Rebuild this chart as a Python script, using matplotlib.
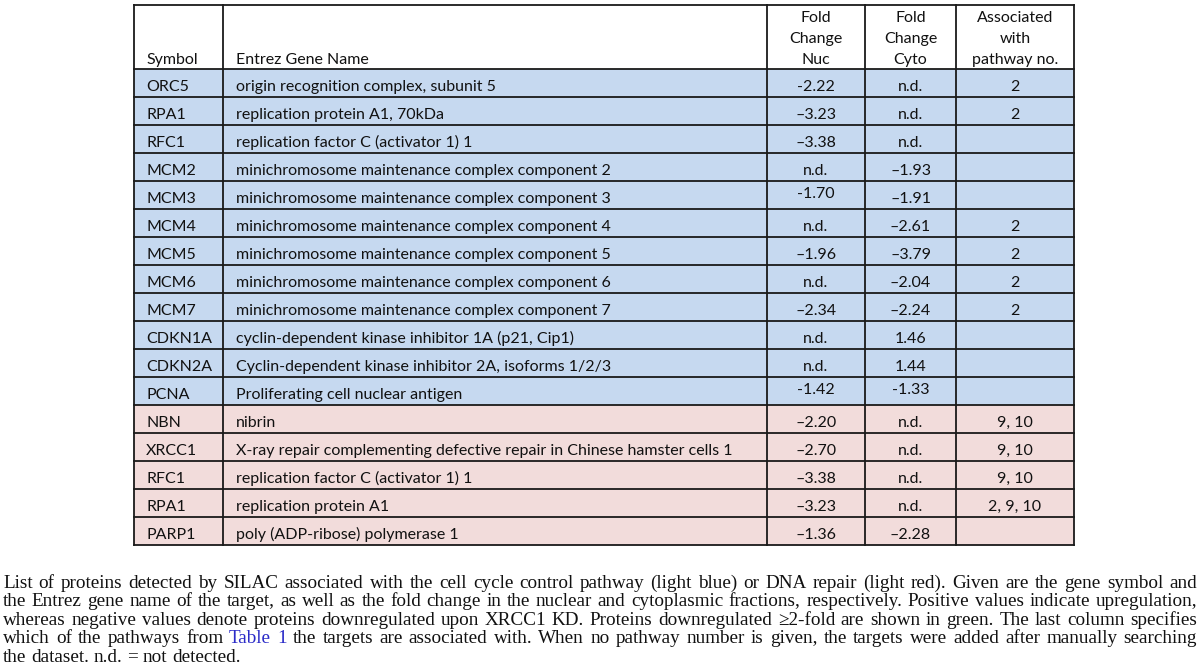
import matplotlib
matplotlib.use("Agg")
import matplotlib.pyplot as plt
from matplotlib.patches import Rectangle

# ---------------- data ----------------
symbols = ["ORC5", "RPA1", "RFC1", "MCM2", "MCM3", "MCM4", "MCM5", "MCM6", "MCM7",
           "CDKN1A", "CDKN2A", "PCNA", "NBN", "XRCC1", "RFC1", "RPA1", "PARP1"]
gene_names = [
    "origin recognition complex, subunit 5",
    "replication protein A1, 70kDa",
    "replication factor C (activator 1) 1",
    "minichromosome maintenance complex component 2",
    "minichromosome maintenance complex component 3",
    "minichromosome maintenance complex component 4",
    "minichromosome maintenance complex component 5",
    "minichromosome maintenance complex component 6",
    "minichromosome maintenance complex component 7",
    "cyclin-dependent kinase inhibitor 1A (p21, Cip1)",
    "Cyclin-dependent kinase inhibitor 2A, isoforms 1/2/3",
    "Proliferating cell nuclear antigen",
    "nibrin",
    "X-ray repair complementing defective repair in Chinese hamster cells 1",
    "replication factor C (activator 1) 1",
    "replication protein A1",
    "poly (ADP-ribose) polymerase 1",
]
fold_nuc = ["-2.22", "\u20133.23", "\u20133.38", "n.d.", "-1.70", "n.d.", "\u20131.96", "n.d.",
            "\u20132.34", "n.d.", "n.d.", "-1.42", "\u20132.20", "\u20132.70", "\u20133.38",
            "\u20133.23", "\u20131.36"]
fold_cyto = ["n.d.", "n.d.", "n.d.", "\u20131.93", "\u20131.91", "\u20132.61", "\u20133.79",
             "\u20132.04", "\u20132.24", "1.46", "1.44", "-1.33", "n.d.", "n.d.", "n.d.",
             "n.d.", "\u20132.28"]
pathways = ["2", "2", "", "", "", "2", "2", "2", "2", "", "", "", "9, 10", "9, 10",
            "9, 10", "2, 9, 10", ""]
groups = ["cycle"] * 12 + ["repair"] * 5
headers = ["Symbol", "Entrez Gene Name", "Fold\nChange\nNuc", "Fold\nChange\nCyto",
           "Associated\nwith\npathway no."]
caption_lines = [
    "List of proteins detected by SILAC associated with the cell cycle control pathway (light blue) or DNA repair (light red). Given are the gene symbol and",
    "the Entrez gene name of the target, as well as the fold change in the nuclear and cytoplasmic fractions, respectively. Positive values indicate upregulation,",
    "whereas negative values denote proteins downregulated upon XRCC1 KD. Proteins downregulated \u22652-fold are shown in green. The last column specifies",
    "which of the pathways from Table 1 the targets are associated with. When no pathway number is given, the targets were added after manually searching",
    "the dataset. n.d. = not detected.",
]

# ---------------- layout ----------------
col_edges = [134, 223, 767, 865, 956, 1074]
table_top, header_bottom, row_h = 5, 69, 28.0
fill = {"cycle": "#c6d9f0", "repair": "#f2dcdb"}
raised = {(4, 2), (11, 2), (11, 3)}
tfont = dict(family="Lato", fontsize=11.5, color="#111111")

fig = plt.figure(figsize=(12, 6.7), dpi=100)
ax = fig.add_axes([0, 0, 1, 1])
ax.set_xlim(0, 1200)
ax.set_ylim(670, 0)
ax.axis("off")

n = len(symbols)
table_bottom = header_bottom + n * row_h

# row fills
for i in range(n):
    y0 = header_bottom + i * row_h
    ax.add_patch(Rectangle((col_edges[0], y0), col_edges[-1] - col_edges[0], row_h,
                           facecolor=fill[groups[i]], edgecolor="none", zorder=1))

# grid lines
lw = 1.3
for x in col_edges:
    ax.plot([x, x], [table_top, table_bottom], color="#1a1a1a", lw=lw, zorder=3,
            solid_capstyle="projecting")
ax.plot([col_edges[0], col_edges[-1]], [table_top, table_top], color="#1a1a1a", lw=lw, zorder=3)
for i in range(n + 1):
    y = header_bottom + i * row_h
    ax.plot([col_edges[0], col_edges[-1]], [y, y], color="#1a1a1a", lw=lw, zorder=3)

# header text
line_gap = 21
for c, h in enumerate(headers):
    lines = h.split("\n")
    for k, ln in enumerate(reversed(lines)):
        y = 64 - k * line_gap
        if c < 2:
            x = col_edges[c] + (12 if c == 0 else 13)
            ax.text(x, y, ln, ha="left", va="baseline", zorder=4, **tfont)
        else:
            x = (col_edges[c] + col_edges[c + 1]) / 2
            ax.text(x, y, ln, ha="center", va="baseline", zorder=4, **tfont)

# body text
for i in range(n):
    yb = header_bottom + i * row_h + 22
    ax.text(col_edges[0] + 12, yb, symbols[i], ha="left", va="baseline", zorder=4, **tfont)
    ax.text(col_edges[1] + 13, yb, gene_names[i], ha="left", va="baseline", zorder=4, **tfont)
    for c, vals in ((2, fold_nuc), (3, fold_cyto), (4, pathways)):
        y = yb - 5 if (i, c) in raised else yb
        ax.text((col_edges[c] + col_edges[c + 1]) / 2, y, vals[i], ha="center",
                va="baseline", zorder=4, **tfont)

# caption, justified
cfont = dict(family="Liberation Serif", fontsize=13.8)
renderer = fig.canvas.get_renderer()
cap_left, cap_right = 3, 1197
cap_b0, cap_dy = 588, 18.4


def word_width(w):
    t = ax.text(0, 0, w, **cfont)
    bb = t.get_window_extent(renderer)
    t.remove()
    return bb.width


space_w = word_width("a b") - word_width("ab")
for li, line in enumerate(caption_lines):
    words = line.split(" ")
    widths = [word_width(w) for w in words]
    last = li == len(caption_lines) - 1
    if last or len(words) == 1:
        gap = space_w
    else:
        gap = (cap_right - cap_left - sum(widths)) / (len(words) - 1)
    x = cap_left
    y = cap_b0 + li * cap_dy
    for wi, (w, wd) in enumerate(zip(words, widths)):
        is_link = li == 3 and (w == "Table" or (w == "1" and wi > 0 and words[wi - 1] == "Table"))
        ax.text(x, y, w, ha="left", va="baseline",
                color="#2b2bc8" if is_link else "#111111", **cfont)
        x += wd + gap

fig.savefig("out.png", dpi=100)
